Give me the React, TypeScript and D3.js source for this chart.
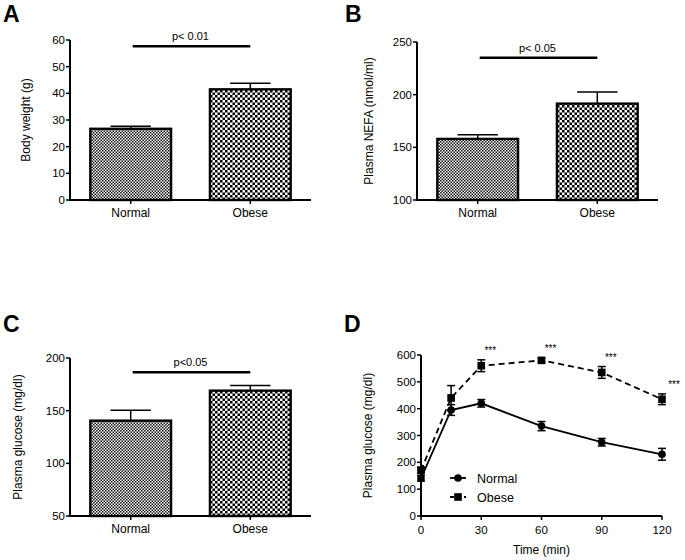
import React from "react";
import * as d3 from "d3";

const categories = ["Normal", "Obese"];

const weightMean = [26.7, 41.5];
const weightErr = [1.0, 2.3];
const weightTicks = [0, 10, 20, 30, 40, 50, 60];

const nefaMean = [158, 191.5];
const nefaErr = [4, 11];
const nefaTicks = [100, 150, 200, 250];

const glucoseMean = [140.5, 169];
const glucoseErr = [10, 5];
const glucoseTicks = [50, 100, 150, 200];

const timeMin = [0, 15, 30, 60, 90, 120];
const normalGlucose = [140, 395, 420, 335, 275, 230];
const normalGlucoseErr = [10, 20, 14, 17, 14, 22];
const obeseGlucose = [170, 440, 560, 580, 535, 435];
const obeseGlucoseErr = [12, 46, 22, 8, 22, 20];
const ogttYTicks = [0, 100, 200, 300, 400, 500, 600];
const ogttXTicks = [0, 30, 60, 90, 120];
const starTimes = [30, 60, 90, 120];

const FONT = "Liberation Sans, Arial, Helvetica, sans-serif";

type BarProps = {
  letter: string;
  letterX: number;
  letterY: number;
  ox: number;
  oy: number;
  labelX: number;
  yLabel: string;
  domain: [number, number];
  ticks: number[];
  means: number[];
  errs: number[];
  sigValue: number;
  sigText: string;
  top: number;
};

function BarPanel(p: BarProps) {
  const axisX = 70;
  const axisEnd = 311;
  const bottom = 200;
  const y = d3.scaleLinear().domain(p.domain).range([bottom, p.top]);
  const x = d3
    .scaleBand<string>()
    .domain(categories)
    .range([axisX, axisEnd])
    .paddingInner(0.325)
    .paddingOuter(0.17);
  const bw = x.bandwidth();
  const sigY = y(p.sigValue);
  const c0 = (x(categories[0]) as number) + bw / 2;
  const c1 = (x(categories[1]) as number) + bw / 2;
  return (
    <g transform={`translate(${p.ox},${p.oy})`} fontFamily={FONT}>
      <text x={p.letterX} y={p.letterY} fontSize={23} fontWeight="bold">
        {p.letter}
      </text>
      <text
        transform={`translate(${p.labelX},${(bottom + p.top) / 2}) rotate(-90)`}
        textAnchor="middle"
        fontSize={12}
      >
        {p.yLabel}
      </text>
      {categories.map((c, i) => {
        const x0 = x(c) as number;
        const top = y(p.means[i]);
        const et = y(p.means[i] + p.errs[i]);
        return (
          <g key={c}>
            <line x1={x0 + bw / 2} x2={x0 + bw / 2} y1={top} y2={et} stroke="#000" strokeWidth={1.5} />
            <line x1={x0 + bw / 4} x2={x0 + (3 * bw) / 4} y1={et} y2={et} stroke="#000" strokeWidth={1.5} />
            <rect
              x={x0}
              y={top}
              width={bw}
              height={bottom - top}
              fill={i === 0 ? "url(#patFine)" : "url(#patCoarse)"}
              stroke="#000"
              strokeWidth={2.4}
            />
            <line x1={x0 + bw / 2} x2={x0 + bw / 2} y1={bottom} y2={bottom + 4} stroke="#000" strokeWidth={1.5} />
            <text x={x0 + bw / 2} y={217} textAnchor="middle" fontSize={12}>
              {c}
            </text>
          </g>
        );
      })}
      <line x1={axisX} x2={axisX} y1={p.top} y2={bottom} stroke="#000" strokeWidth={2} />
      <line x1={axisX - 1} x2={axisEnd} y1={bottom} y2={bottom} stroke="#000" strokeWidth={2} />
      {p.ticks.map((t) => (
        <g key={t}>
          <line x1={axisX - 4} x2={axisX} y1={y(t)} y2={y(t)} stroke="#000" strokeWidth={1.5} />
          <text x={axisX - 5} y={y(t) + 4} textAnchor="end" fontSize={11.5}>
            {t}
          </text>
        </g>
      ))}
      <line x1={c0 + 2} x2={c1} y1={sigY} y2={sigY} stroke="#000" strokeWidth={2.5} />
      <text x={(c0 + c1) / 2} y={sigY - 6} textAnchor="middle" fontSize={11}>
        {p.sigText}
      </text>
    </g>
  );
}

function LinePanel() {
  const ox = 340;
  const oy = 300;
  const x = d3.scaleLinear().domain([0, 120]).range([81, 322]);
  const y = d3.scaleLinear().domain([0, 600]).range([216, 55]);
  const line = d3
    .line<number>()
    .x((_, i) => x(timeMin[i]))
    .y((v) => y(v));
  const series = [
    { name: "Normal", vals: normalGlucose, errs: normalGlucoseErr, dash: undefined as string | undefined, sq: false },
    { name: "Obese", vals: obeseGlucose, errs: obeseGlucoseErr, dash: "6,4", sq: true },
  ];
  const marker = (cx: number, cy: number, sq: boolean, key: string) =>
    sq ? (
      <rect key={key} x={cx - 3.8} y={cy - 3.8} width={7.6} height={7.6} fill="#000" />
    ) : (
      <circle key={key} cx={cx} cy={cy} r={3.8} fill="#000" />
    );
  return (
    <g transform={`translate(${ox},${oy})`} fontFamily={FONT}>
      <text x={4} y={32} fontSize={23} fontWeight="bold">
        D
      </text>
      <text transform={`translate(32,${(216 + 55) / 2}) rotate(-90)`} textAnchor="middle" fontSize={12}>
        Plasma glucose (mg/dl)
      </text>
      {series.map((s) => (
        <g key={s.name}>
          <path d={line(s.vals) as string} fill="none" stroke="#000" strokeWidth={1.8} strokeDasharray={s.dash} />
          {s.vals.map((v, i) => {
            const cx = x(timeMin[i]);
            const yt = y(v + s.errs[i]);
            const yb = y(v - s.errs[i]);
            return (
              <g key={i}>
                <line x1={cx} x2={cx} y1={yt} y2={yb} stroke="#000" strokeWidth={1.5} />
                <line x1={cx - 4} x2={cx + 4} y1={yt} y2={yt} stroke="#000" strokeWidth={1.5} />
                <line x1={cx - 4} x2={cx + 4} y1={yb} y2={yb} stroke="#000" strokeWidth={1.5} />
                {marker(cx, y(v), s.sq, "m" + i)}
              </g>
            );
          })}
        </g>
      ))}
      {starTimes.map((t) => {
        const i = timeMin.indexOf(t);
        const top = y(obeseGlucose[i] + obeseGlucoseErr[i]);
        return (
          <text key={t} x={x(t) + (t === 120 ? 12 : 9)} y={top - 6} textAnchor="middle" fontSize={10}>
            ***
          </text>
        );
      })}
      <line x1={x(0)} x2={x(0)} y1={55} y2={216} stroke="#000" strokeWidth={2} />
      <line x1={x(0) - 1} x2={x(120)} y1={216} y2={216} stroke="#000" strokeWidth={2} />
      {ogttYTicks.map((t) => (
        <g key={t}>
          <line x1={x(0) - 4} x2={x(0)} y1={y(t)} y2={y(t)} stroke="#000" strokeWidth={1.5} />
          <text x={x(0) - 5} y={y(t) + 4} textAnchor="end" fontSize={11.5}>
            {t}
          </text>
        </g>
      ))}
      {ogttXTicks.map((t) => (
        <g key={t}>
          <line x1={x(t)} x2={x(t)} y1={216} y2={220} stroke="#000" strokeWidth={1.5} />
          <text x={x(t)} y={234} textAnchor="middle" fontSize={11.5}>
            {t}
          </text>
        </g>
      ))}
      <text x={(x(0) + x(120)) / 2} y={254} textAnchor="middle" fontSize={12}>
        Time (min)
      </text>
      {series.map((s, i) => {
        const ly = 178 + i * 19;
        return (
          <g key={s.name}>
            <line x1={110} x2={126} y1={ly} y2={ly} stroke="#000" strokeWidth={1.8} strokeDasharray={s.sq ? "4,3" : undefined} />
            {marker(118, ly, s.sq, "lm")}
            <text x={137} y={ly + 4.5} fontSize={12.5}>
              {s.name}
            </text>
          </g>
        );
      })}
    </g>
  );
}

export default function App() {
  return (
    <svg width={685} height={560} style={{ display: "block", position: "absolute", left: 0, top: 0 }}>
      <defs>
        <pattern id="patFine" width={3} height={3} patternUnits="userSpaceOnUse">
          <rect width={3} height={3} fill="#fff" />
          <rect width={1.5} height={1.5} fill="#111" />
          <rect x={1.5} y={1.5} width={1.5} height={1.5} fill="#111" />
        </pattern>
        <pattern id="patCoarse" width={5} height={5} patternUnits="userSpaceOnUse">
          <rect width={5} height={5} fill="#fff" />
          <rect width={2.5} height={2.5} fill="#000" />
          <rect x={2.5} y={2.5} width={2.5} height={2.5} fill="#000" />
        </pattern>
      </defs>
      <rect width={685} height={560} fill="#fff" />
      <BarPanel
        letter="A"
        letterX={3}
        letterY={22}
        ox={0}
        oy={0}
        labelX={30}
        yLabel="Body weight (g)"
        domain={[0, 60]}
        ticks={weightTicks}
        means={weightMean}
        errs={weightErr}
        sigValue={57.7}
        sigText="p< 0.01"
        top={40}
      />
      <BarPanel
        letter="B"
        letterX={-2}
        letterY={22}
        ox={347}
        oy={0}
        labelX={26}
        yLabel="Plasma NEFA (nmol/ml)"
        domain={[100, 250]}
        ticks={nefaTicks}
        means={nefaMean}
        errs={nefaErr}
        sigValue={235}
        sigText="p< 0.05"
        top={42}
      />
      <BarPanel
        letter="C"
        letterX={3}
        letterY={16}
        ox={0}
        oy={316}
        labelX={22}
        yLabel="Plasma glucose (mg/dl)"
        domain={[50, 200]}
        ticks={glucoseTicks}
        means={glucoseMean}
        errs={glucoseErr}
        sigValue={186.4}
        sigText="p<0.05"
        top={42}
      />
      <LinePanel />
    </svg>
  );
}
